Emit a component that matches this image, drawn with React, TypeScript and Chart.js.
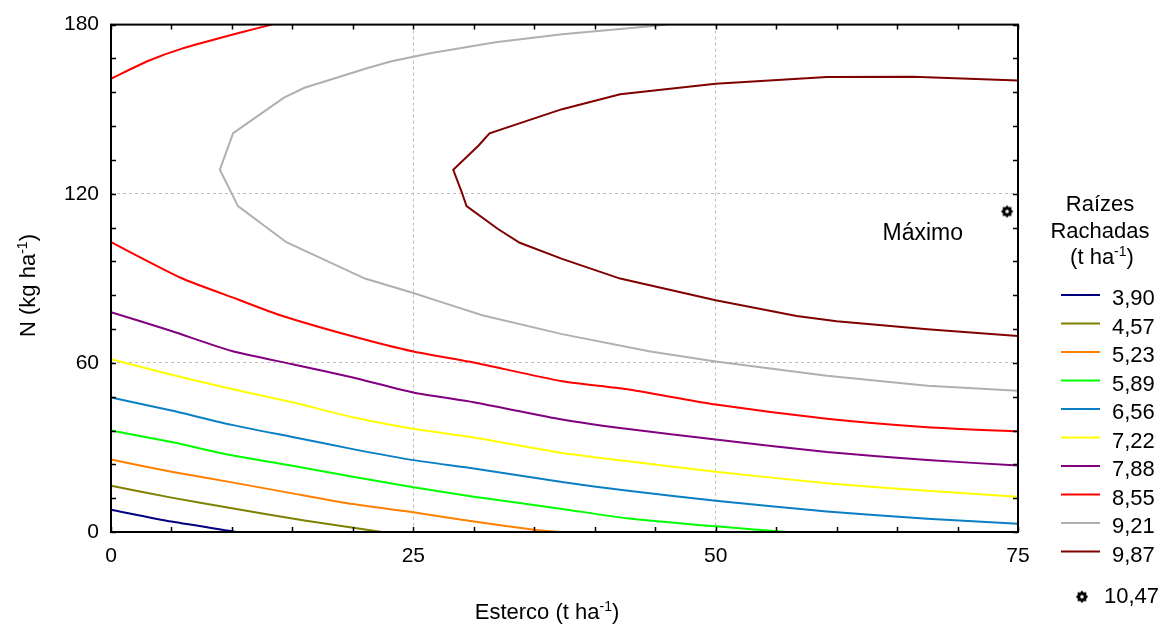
import { useEffect, useRef } from "react";
import { Chart, registerables } from "chart.js";

Chart.register(...registerables);

const FONT = "Arial, 'Liberation Sans', sans-serif";

// Axis ranges and labelled ticks
const xTicks = [0, 25, 50, 75];
const yTicks = [0, 60, 120, 180];

// Contour levels (t ha-1) shown in the legend
const levelLabels = ["3,90", "4,57", "5,23", "5,89", "6,56", "7,22", "7,88", "8,55", "9,21", "9,87"];
const lineColors = ["#000080", "#808000", "#ff8000", "#00ff00", "#0a7fc4", "#ffff00", "#800080", "#ff0000", "#b0b0b0", "#800000"];
const lineTension = [0.2, 0.2, 0.2, 0.2, 0.2, 0.2, 0.2, 0.2, 0, 0];

// Iso-lines as [Esterco, N] pairs
const c390: [number, number][] = [[0, 7.9], [5, 3.7], [10.4, 0]];
const c457: [number, number][] = [[0, 16.4], [5, 12.2], [10, 8.4], [16, 4.1], [22.4, 0]];
const c523: [number, number][] = [[0, 25.7], [5, 21.4], [10, 17.6], [15, 13.7], [20, 9.9], [25, 7.0], [30, 3.7], [35, 0.8], [37.1, 0]];
const c589: [number, number][] = [[0, 36.0], [5, 31.9], [10, 27.2], [15, 23.5], [20, 19.6], [25, 15.9], [30, 12.5], [37.3, 8.2], [42.6, 4.9], [50, 2.0], [55.9, 0]];
const c656: [number, number][] = [[0, 47.7], [5, 43.1], [10, 38.0], [15, 33.7], [20, 29.4], [25, 25.5], [30, 22.5], [37.3, 17.7], [42.6, 14.7], [50, 11.1], [59.2, 7.3], [67.5, 4.7], [75, 2.9]];
const c722: [number, number][] = [[0, 61.3], [5, 55.8], [10, 50.7], [15, 46.0], [20, 40.7], [25, 36.6], [30, 33.5], [37.3, 28.0], [42.6, 25.2], [50, 21.4], [59.2, 17.3], [67.5, 14.6], [75, 12.5]];
const c788: [number, number][] = [[0, 78.0], [5, 71.3], [10, 64.2], [15, 59.5], [20, 54.8], [25, 49.5], [30, 46.0], [37.3, 39.9], [42.6, 36.6], [50, 32.8], [59.2, 28.4], [67.5, 25.5], [75, 23.6]];
const c855Upper: [number, number][] = [[0, 160.8], [3, 167.0], [5.8, 171.4], [10.8, 177.3], [13.3, 180]];
const c855Lower: [number, number][] = [[0, 102.8], [5.8, 90.1], [10.5, 82.5], [14, 76.9], [19.9, 69.5], [25, 64.0], [30, 60.1], [37.3, 53.5], [42.6, 50.7], [50, 45.2], [59.2, 40.2], [67.5, 37.2], [75, 35.7]];
const c921: [number, number][] = [[46, 180], [45.1, 179.6], [37.3, 176.6], [31.8, 173.7], [26.5, 169.9], [23.2, 167.0], [21.3, 164.7], [16, 157.6], [14.3, 154.1], [10.1, 141.5], [9.0, 128.5], [10.5, 115.6], [14.5, 102.8], [21, 89.9], [25, 84.8], [27, 82], [30.7, 76.9], [37.3, 70.2], [44.6, 64.0], [50, 60.5], [59.2, 55.4], [67.5, 51.9], [75, 50.1]];
const c987: [number, number][] = [[75, 160.2], [66.3, 161.5], [59.2, 161.4], [50, 159.0], [42.1, 155.3], [37.3, 150], [31.3, 141.4], [30.4, 137.1], [28.3, 128.5], [29.0, 120.6], [29.4, 115.6], [32.0, 107.5], [33.8, 102.6], [37.3, 96.9], [42.1, 89.9], [50, 82.2], [56.7, 76.6], [60, 74.8], [67.5, 71.9], [75, 69.5]];

const contours: [number, number][][][] = [[c390], [c457], [c523], [c589], [c656], [c722], [c788], [c855Upper, c855Lower], [c921], [c987]];

// Maximum of the response surface
const maxPoint: [number, number] = [74.1, 113.7];
const maxValueLabel = "10,47";
const maxText = "Máximo";
const maxTextPos: [number, number] = [63.8, 103.6];

function makeStar(): HTMLCanvasElement {
  const c = document.createElement("canvas");
  c.width = 14;
  c.height = 14;
  const g = c.getContext("2d")!;
  g.translate(7, 7);
  g.beginPath();
  for (let k = 0; k < 16; k++) {
    const r = k % 2 === 0 ? 6.2 : 4.6;
    const a = (k * Math.PI) / 8 - Math.PI / 2;
    g.lineTo(r * Math.cos(a), r * Math.sin(a));
  }
  g.closePath();
  g.fillStyle = "#000";
  g.fill();
  g.beginPath();
  g.arc(0, 0, 1.8, 0, Math.PI * 2);
  g.fillStyle = "#fff";
  g.fill();
  return c;
}

// Text with a superscript part, centred on cx at the given baseline
function drawUnitText(ctx: CanvasRenderingContext2D, before: string, sup: string, after: string, cx: number, baseline: number, size: number, supSize: number, rise: number) {
  ctx.font = `${size}px ${FONT}`;
  const w1 = ctx.measureText(before).width;
  const w3 = ctx.measureText(after).width;
  ctx.font = `${supSize}px ${FONT}`;
  const w2 = ctx.measureText(sup).width;
  let x = cx - (w1 + w2 + w3) / 2;
  ctx.textAlign = "left";
  ctx.textBaseline = "alphabetic";
  ctx.font = `${size}px ${FONT}`;
  ctx.fillText(before, x, baseline);
  x += w1;
  ctx.font = `${supSize}px ${FONT}`;
  ctx.fillText(sup, x, baseline - rise);
  x += w2;
  ctx.font = `${size}px ${FONT}`;
  ctx.fillText(after, x, baseline);
}

export default function App() {
  const ref = useRef<HTMLCanvasElement>(null);

  useEffect(() => {
    const canvas = ref.current!;
    const star = makeStar();

    const datasets: any[] = [];
    contours.forEach((branches, i) => {
      branches.forEach((b) => {
        datasets.push({
          type: "line",
          data: b.map(([x, y]) => ({ x, y })),
          borderColor: lineColors[i],
          borderWidth: 2,
          pointRadius: 0,
          tension: lineTension[i],
          fill: false,
        });
      });
    });
    datasets.push({
      type: "scatter",
      data: [{ x: maxPoint[0], y: maxPoint[1] }],
      pointStyle: star,
      pointRadius: 7,
      showLine: false,
    });

    const decor = {
      id: "decor",
      afterDraw(chart: any) {
        const ctx: CanvasRenderingContext2D = chart.ctx;
        const { left, right, top, bottom } = chart.chartArea;
        const xs = chart.scales.x;
        const ys = chart.scales.y;
        ctx.save();

        // Minor ticks pointing inwards on all four sides
        ctx.strokeStyle = "#000";
        ctx.lineWidth = 1.5;
        ctx.beginPath();
        for (let v = 0; v <= 75; v += 5) {
          const px = Math.round(xs.getPixelForValue(v)) + 0.5;
          ctx.moveTo(px, bottom);
          ctx.lineTo(px, bottom - 5);
          ctx.moveTo(px, top);
          ctx.lineTo(px, top + 5);
        }
        for (let v = 0; v <= 180; v += 12) {
          const py = Math.round(ys.getPixelForValue(v)) + 0.5;
          ctx.moveTo(left, py);
          ctx.lineTo(left + 5, py);
          ctx.moveTo(right, py);
          ctx.lineTo(right - 5, py);
        }
        ctx.stroke();

        // Frame
        ctx.lineWidth = 2;
        ctx.strokeRect(left, top, right - left, bottom - top);

        ctx.fillStyle = "#000";

        // Axis titles
        drawUnitText(ctx, "Esterco (t ha", "-1", ")", 547, 619, 22, 14, 8);
        ctx.save();
        ctx.translate(35, 285.5);
        ctx.rotate(-Math.PI / 2);
        drawUnitText(ctx, "N (kg ha", "-1", ")", 0, 0, 22, 14, 8);
        ctx.restore();

        // Annotation for the maximum
        ctx.font = `23px ${FONT}`;
        ctx.textAlign = "left";
        ctx.textBaseline = "alphabetic";
        ctx.fillText(maxText, xs.getPixelForValue(maxTextPos[0]), ys.getPixelForValue(maxTextPos[1]));

        // Legend
        const lx = 1100;
        ctx.font = `22px ${FONT}`;
        ctx.textAlign = "center";
        ctx.fillText("Raízes", lx, 210.7);
        ctx.fillText("Rachadas", lx, 237.5);
        drawUnitText(ctx, "(t ha", "-1", ")", lx + 2, 264, 22, 14, 8);

        ctx.textAlign = "left";
        levelLabels.forEach((lab, i) => {
          const base = 305 + 28.5 * i;
          ctx.strokeStyle = lineColors[i];
          ctx.lineWidth = 2;
          ctx.beginPath();
          ctx.moveTo(1061, base - 10);
          ctx.lineTo(1100, base - 10);
          ctx.stroke();
          ctx.font = `22px ${FONT}`;
          ctx.fillStyle = "#000";
          ctx.fillText(lab, 1112, base);
        });
        ctx.drawImage(star, 1082 - 7, 596.7 - 7);
        ctx.font = `22px ${FONT}`;
        ctx.fillText(maxValueLabel, 1104, 603.3);

        ctx.restore();
      },
    };

    const gridColor = (edgeA: number, edgeB: number) => (c: any) =>
      c.tick && (c.tick.value === edgeA || c.tick.value === edgeB) ? "rgba(0,0,0,0)" : "#bdbdbd";

    const chart = new Chart(canvas, {
      type: "line",
      data: { datasets },
      options: {
        responsive: true,
        maintainAspectRatio: false,
        animation: false,
        events: [],
        layout: { padding: { top: 23, right: 146, left: 0, bottom: 0 } },
        plugins: { legend: { display: false }, tooltip: { enabled: false } },
        scales: {
          x: {
            type: "linear",
            min: 0,
            max: 75,
            afterBuildTicks: (s: any) => {
              s.ticks = xTicks.map((v) => ({ value: v }));
            },
            afterFit: (s: any) => {
              s.height = 92;
            },
            grid: { color: gridColor(0, 75), lineWidth: 1, drawTicks: false },
            border: { display: false, dash: [3, 3] },
            ticks: { color: "#000", font: { family: FONT, size: 21 }, padding: 12, maxRotation: 0, autoSkip: false },
          },
          y: {
            type: "linear",
            min: 0,
            max: 180,
            afterBuildTicks: (s: any) => {
              s.ticks = yTicks.map((v) => ({ value: v }));
            },
            afterFit: (s: any) => {
              s.width = 111;
            },
            grid: { color: gridColor(0, 180), lineWidth: 1, drawTicks: false },
            border: { display: false, dash: [3, 3] },
            ticks: { color: "#000", font: { family: FONT, size: 21 }, padding: 12, autoSkip: false },
          },
        },
      } as any,
      plugins: [decor],
    });

    return () => chart.destroy();
  }, []);

  return (
    <div style={{ position: "absolute", left: 0, top: 0, width: 1164, height: 624, background: "#fff" }}>
      <canvas ref={ref} />
    </div>
  );
}
